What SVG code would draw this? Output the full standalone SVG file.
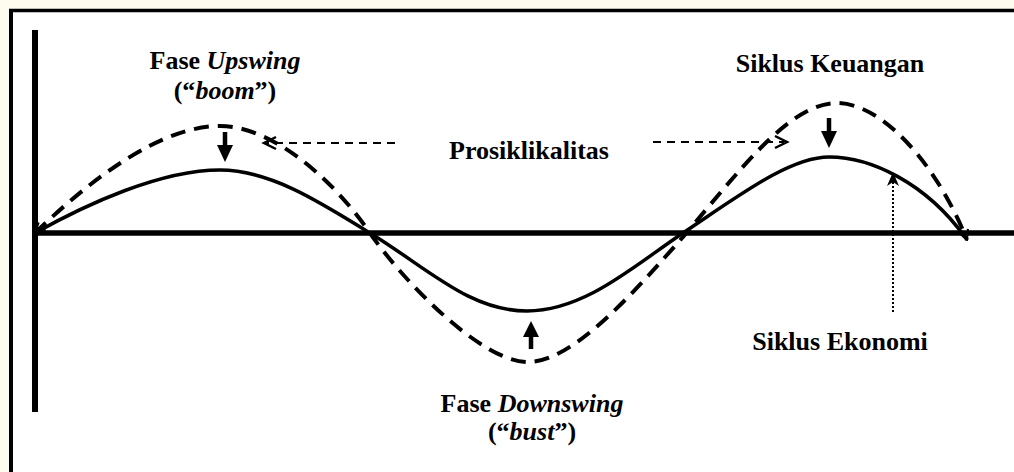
<svg xmlns="http://www.w3.org/2000/svg" width="1014" height="472" viewBox="0 0 1014 472">
  <style>
    .lbl { font-family: 'Liberation Serif', 'Times New Roman', 'DejaVu Serif', serif; font-weight: bold; font-size: 26px; fill: #000; }
    .it { font-style: italic; }
    .solid { fill: none; stroke: #000; stroke-width: 3.5; stroke-linecap: round; }
    .dash { fill: none; stroke: #000; stroke-width: 4; stroke-dasharray: 15 9; }
    .thin-dash { fill: none; stroke: #000; stroke-width: 2; stroke-dasharray: 8 6; }
    .dot { fill: none; stroke: #000; stroke-width: 2; stroke-dasharray: 2 2; }
    .axis { stroke: #000; fill: none; }
    .head { fill: none; stroke: #000; stroke-width: 2.5; stroke-linejoin: miter; }
  </style>
  <defs>
    <marker id="endTip" viewBox="0 0 12 12" refX="11" refY="6" markerWidth="12" markerHeight="12" markerUnits="userSpaceOnUse" orient="auto-start-reverse">
      <path d="M1,1 L11,6 L1,11" fill="none" stroke="#000" stroke-width="2"/>
    </marker>
  </defs>

  <!-- background and frame -->
  <rect x="0" y="0" width="1014" height="472" fill="#fdfcef"/>
  <rect x="11" y="10.5" width="1010" height="470" fill="#ffffff"/>
  <line class="axis" x1="9" y1="10.5" x2="1014" y2="10.5" stroke-width="3.5"/>
  <line class="axis" x1="11" y1="9" x2="11" y2="472" stroke-width="4"/>

  <!-- axes -->
  <g id="axes">
    <line class="axis" x1="35" y1="30" x2="35" y2="412" stroke-width="6"/>
    <line class="axis" x1="32" y1="233" x2="1014" y2="233" stroke-width="5.5"/>
  </g>

  <!-- curves -->
  <g id="siklus-ekonomi-curve">
    <path class="solid" d="M35,233 C85,205 160,170 220,170 C270,170 320,202 370,233 C430,270 470,311 527,311 C585,311 635,265 683,233 C740,195 790,157 829,157 C870,157 925,182 965,237"/>
  </g>
  <g id="siklus-keuangan-curve">
    <path class="dash" marker-start="url(#endTip)" marker-end="url(#endTip)" d="M35,233 C90,180 160,126 220,126 C270,126 330,175 370,233 C400,277 480,362 528,362 C575,362 640,285 683,237 C740,170 790,103 837,103 C880,103 935,160 967,240"/>
  </g>

  <!-- connectors -->
  <g id="connectors">
    <line x1="225" y1="132" x2="225" y2="148" stroke="#000" stroke-width="4.5"/>
    <path d="M217,145 L233,145 L225,162 Z" fill="#000"/>
    <line x1="829" y1="118" x2="829" y2="134" stroke="#000" stroke-width="4.5"/>
    <path d="M821,131 L837,131 L829,148 Z" fill="#000"/>
    <line x1="531" y1="349" x2="531" y2="334" stroke="#000" stroke-width="4.5"/>
    <path d="M523,337 L539,337 L531,321 Z" fill="#000"/>
    <line class="thin-dash" x1="395" y1="143" x2="266" y2="143"/>
    <path class="head" d="M276,137 L264,143 L276,149"/>
    <line class="thin-dash" x1="653" y1="142" x2="784" y2="142"/>
    <path class="head" d="M775,136 L787,142 L775,148"/>
    <line class="dot" x1="893" y1="312" x2="893" y2="180"/>
    <path d="M893,172 L899,186 L893,182 L887,186 Z" fill="#000"/>
  </g>

  <!-- labels -->
  <g id="label-upswing">
    <text class="lbl" font-family="Liberation Serif, serif" x="225" y="69" text-anchor="middle">Fase <tspan class="it">Upswing</tspan></text>
    <text class="lbl" font-family="Liberation Serif, serif" x="225" y="99" text-anchor="middle">(“<tspan class="it">boom</tspan>”)</text>
  </g>
  <g id="label-prosiklikalitas">
    <text class="lbl" font-family="Liberation Serif, serif" x="529" y="159" text-anchor="middle">Prosiklikalitas</text>
  </g>
  <g id="label-siklus-keuangan">
    <text class="lbl" font-family="Liberation Serif, serif" x="830" y="72" text-anchor="middle">Siklus Keuangan</text>
  </g>
  <g id="label-siklus-ekonomi">
    <text class="lbl" font-family="Liberation Serif, serif" x="840" y="350" text-anchor="middle">Siklus Ekonomi</text>
  </g>
  <g id="label-downswing">
    <text class="lbl" font-family="Liberation Serif, serif" x="532" y="412" text-anchor="middle">Fase <tspan class="it">Downswing</tspan></text>
    <text class="lbl" font-family="Liberation Serif, serif" x="532" y="440" text-anchor="middle">(“<tspan class="it">bust</tspan>”)</text>
  </g>
</svg>
